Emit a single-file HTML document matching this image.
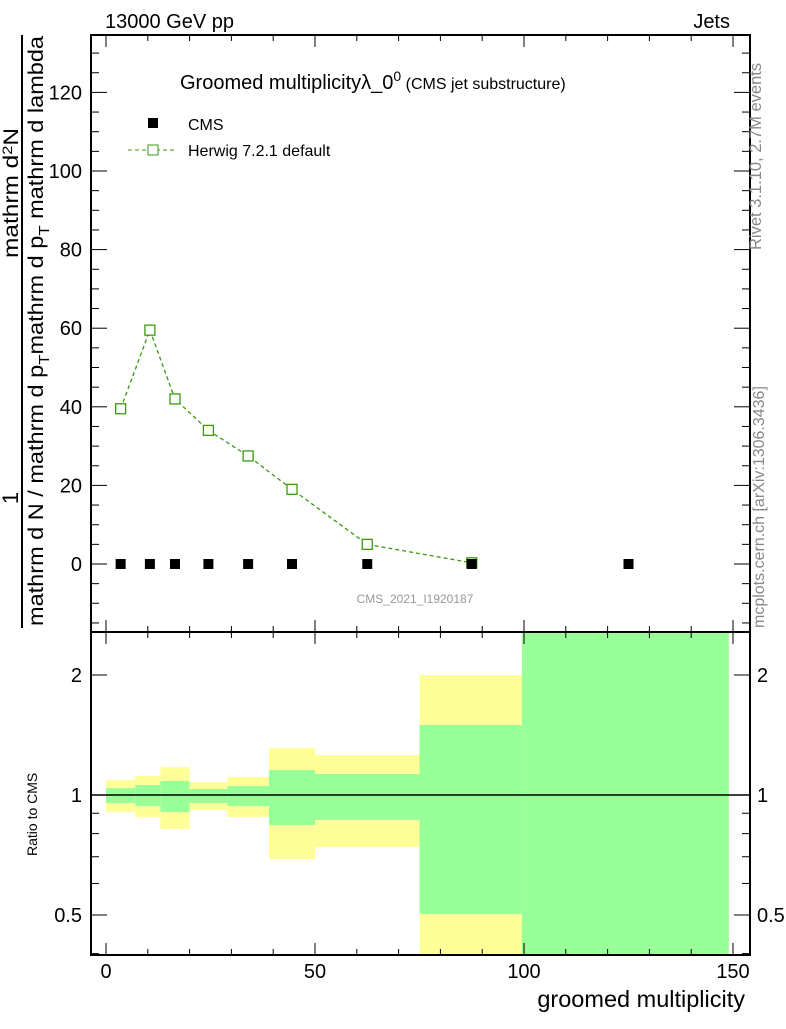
<!DOCTYPE html>
<html><head><meta charset="utf-8"><style>
body{margin:0;background:#fff}
svg text{font-family:"Liberation Sans",sans-serif}
</style></head><body>
<svg id="c" width="786" height="1024" xmlns="http://www.w3.org/2000/svg">
<g id="bands"></g>
<g id="main"></g>
<rect x="91" y="35" width="659" height="597" fill="none" stroke="#000" stroke-width="2"/>
<rect x="91" y="632" width="659" height="323" fill="none" stroke="#000" stroke-width="2"/>
<g id="axes"></g>
<text x="105" y="28" font-size="20">13000 GeV pp</text>
<text x="730" y="28" font-size="20" text-anchor="end">Jets</text>
<text x="180" y="89" font-size="20">Groomed multiplicityλ_0<tspan dy="-8" font-size="14">0</tspan><tspan dy="8" font-size="16"> (CMS jet substructure)</tspan></text>
<rect x="148" y="118" width="10" height="10" fill="#000"/>
<text x="188" y="130" font-size="16">CMS</text>
<line x1="128" y1="150" x2="175" y2="150" stroke="#3a9a10" stroke-dasharray="4,3"/>
<rect x="148" y="145" width="10" height="10" fill="#fff" stroke="#3a9a10"/>
<text x="188" y="156" font-size="16">Herwig 7.2.1 default</text>
<text x="415" y="603" font-size="12" fill="#999" text-anchor="middle">CMS_2021_I1920187</text>
<text transform="translate(761,250) rotate(-90)" font-size="16.5" fill="#888">Rivet 3.1.10,  2.7M events</text>
<text transform="translate(764,628) rotate(-90)" font-size="16" fill="#888">mcplots.cern.ch [arXiv:1306.3436]</text>
<text x="745" y="1007" font-size="23.5" text-anchor="end">groomed multiplicity</text>
<text transform="translate(37,856) rotate(-90)" font-size="14">Ratio to CMS</text>
<g>
<text transform="translate(18,498) rotate(-90)" font-size="22" text-anchor="middle">1</text>
<line x1="22" y1="628" x2="22" y2="35" stroke="#000" stroke-width="2"/>
<text transform="translate(43,626) rotate(-90)" font-size="21" textLength="590" lengthAdjust="spacingAndGlyphs">mathrm d N / mathrm d p<tspan dy="6" font-size="15">T</tspan><tspan dy="-6">mathrm d p</tspan><tspan dy="6" font-size="15">T</tspan><tspan dy="-6"> mathrm d lambda</tspan></text>
<text transform="translate(18,258) rotate(-90)" font-size="21" textLength="130" lengthAdjust="spacingAndGlyphs">mathrm d<tspan dy="-6" font-size="14">2</tspan><tspan dy="6">N</tspan></text>
</g>
</svg>
<script>
const edges=[0,7,13,20,29,39,50,75,99.5,149];
const xCenters=[3.5,10.5,16.5,24.5,34,44.5,62.5,87.5,125];
const cmsVals=[0,0,0,0,0,0,0,0,0];
const herwigVals=[39.5,59.5,42,34,27.5,19,5,0.3];
const yellowHi=[1.09,1.116,1.175,1.078,1.11,1.312,1.26,2.0,3];
const greenHi=[1.04,1.059,1.084,1.035,1.053,1.155,1.129,1.498,3];
const greenLo=[0.955,0.938,0.906,0.955,0.938,0.841,0.866,0.503,0.3];
const yellowLo=[0.906,0.881,0.822,0.917,0.881,0.691,0.74,0.3,0.3];
const xTicks=[0,50,100,150];
const yTicks=[0,20,40,60,80,100,120];
const rTicks=[0.5,1,2];
const NS="http://www.w3.org/2000/svg";
const X=v=>106+v*4.18;
const Y=v=>564-v*3.93;
const R=v=>Math.min(955,Math.max(632,795-Math.log2(v)*120));
function mk(p,t,a){const e=document.createElementNS(NS,t);for(const k in a)e.setAttribute(k,a[k]);p.appendChild(e);return e;}
const bands=document.getElementById('bands'),main=document.getElementById('main'),axes=document.getElementById('axes');
for(let i=0;i<edges.length-1;i++){
 const x1=X(edges[i]),x2=X(edges[i+1]);
 const y=mk(bands,'rect',{x:x1,y:R(yellowHi[i]),width:x2-x1,height:R(yellowLo[i])-R(yellowHi[i]),fill:'#ffff99'});
 
 
 const g=mk(bands,'rect',{x:x1,y:R(greenHi[i]),width:x2-x1,height:R(greenLo[i])-R(greenHi[i]),fill:'#99ff99'});
 
 
}
const one=mk(bands,'line',{x1:91,x2:750,y1:R(1),y2:R(1),stroke:'#000','stroke-width':1.5});


let pts=herwigVals.map((v,i)=>X(xCenters[i])+','+Y(v)).join(' ');
const pl=mk(main,'polyline',{points:pts,fill:'none',stroke:'#3a9a10','stroke-dasharray':'4,3','stroke-width':1.3});


herwigVals.forEach((v,i)=>{const r=mk(main,'rect',{x:X(xCenters[i])-5,y:Y(v)-5,width:10,height:10,fill:'#fff',stroke:'#3a9a10','stroke-width':1.3});
 
 });
cmsVals.forEach((v,i)=>{const r=mk(main,'rect',{x:X(xCenters[i])-5,y:Y(v)-5,width:10,height:10,fill:'#000'});
 
 });
for(let v=0;v<=150;v+=10){const maj=v%50==0,l=maj?12:6;
 [[632,-1],[955,-1],[35,1],[632,1]].forEach(([y0,d])=>{mk(axes,'line',{x1:X(v),x2:X(v),y1:y0,y2:y0+d*l,stroke:'#000'});});}
xTicks.forEach(v=>{const t=mk(axes,'text',{x:X(v),y:978,'font-size':20,'text-anchor':'middle'});t.textContent=v;
 
 });
for(let v=-15;v<=130;v+=5){const y=Y(v);if(y<35||y>632)continue;const maj=v%20==0,l=maj?16:8;
 mk(axes,'line',{x1:91,x2:91+l,y1:y,y2:y,stroke:'#000'});mk(axes,'line',{x1:750,x2:750-l,y1:y,y2:y,stroke:'#000'});}
yTicks.forEach(v=>{const t=mk(axes,'text',{x:82,y:Y(v)+7,'font-size':20,'text-anchor':'end'});t.textContent=v;
 
 });
[0.4,0.5,0.6,0.7,0.8,0.9,1,2].forEach(v=>{const y=R(v);const l=(v==0.5||v==1||v==2)?16:8;
 mk(axes,'line',{x1:91,x2:91+l,y1:y,y2:y,stroke:'#000'});mk(axes,'line',{x1:750,x2:750-l,y1:y,y2:y,stroke:'#000'});});
rTicks.forEach(v=>{[[82,'end'],[757,'start']].forEach(([x,a])=>{const t=mk(axes,'text',{x:x,y:R(v)+7,'font-size':20,'text-anchor':a});t.textContent=v;
 
 });});
</script>
</body></html>
